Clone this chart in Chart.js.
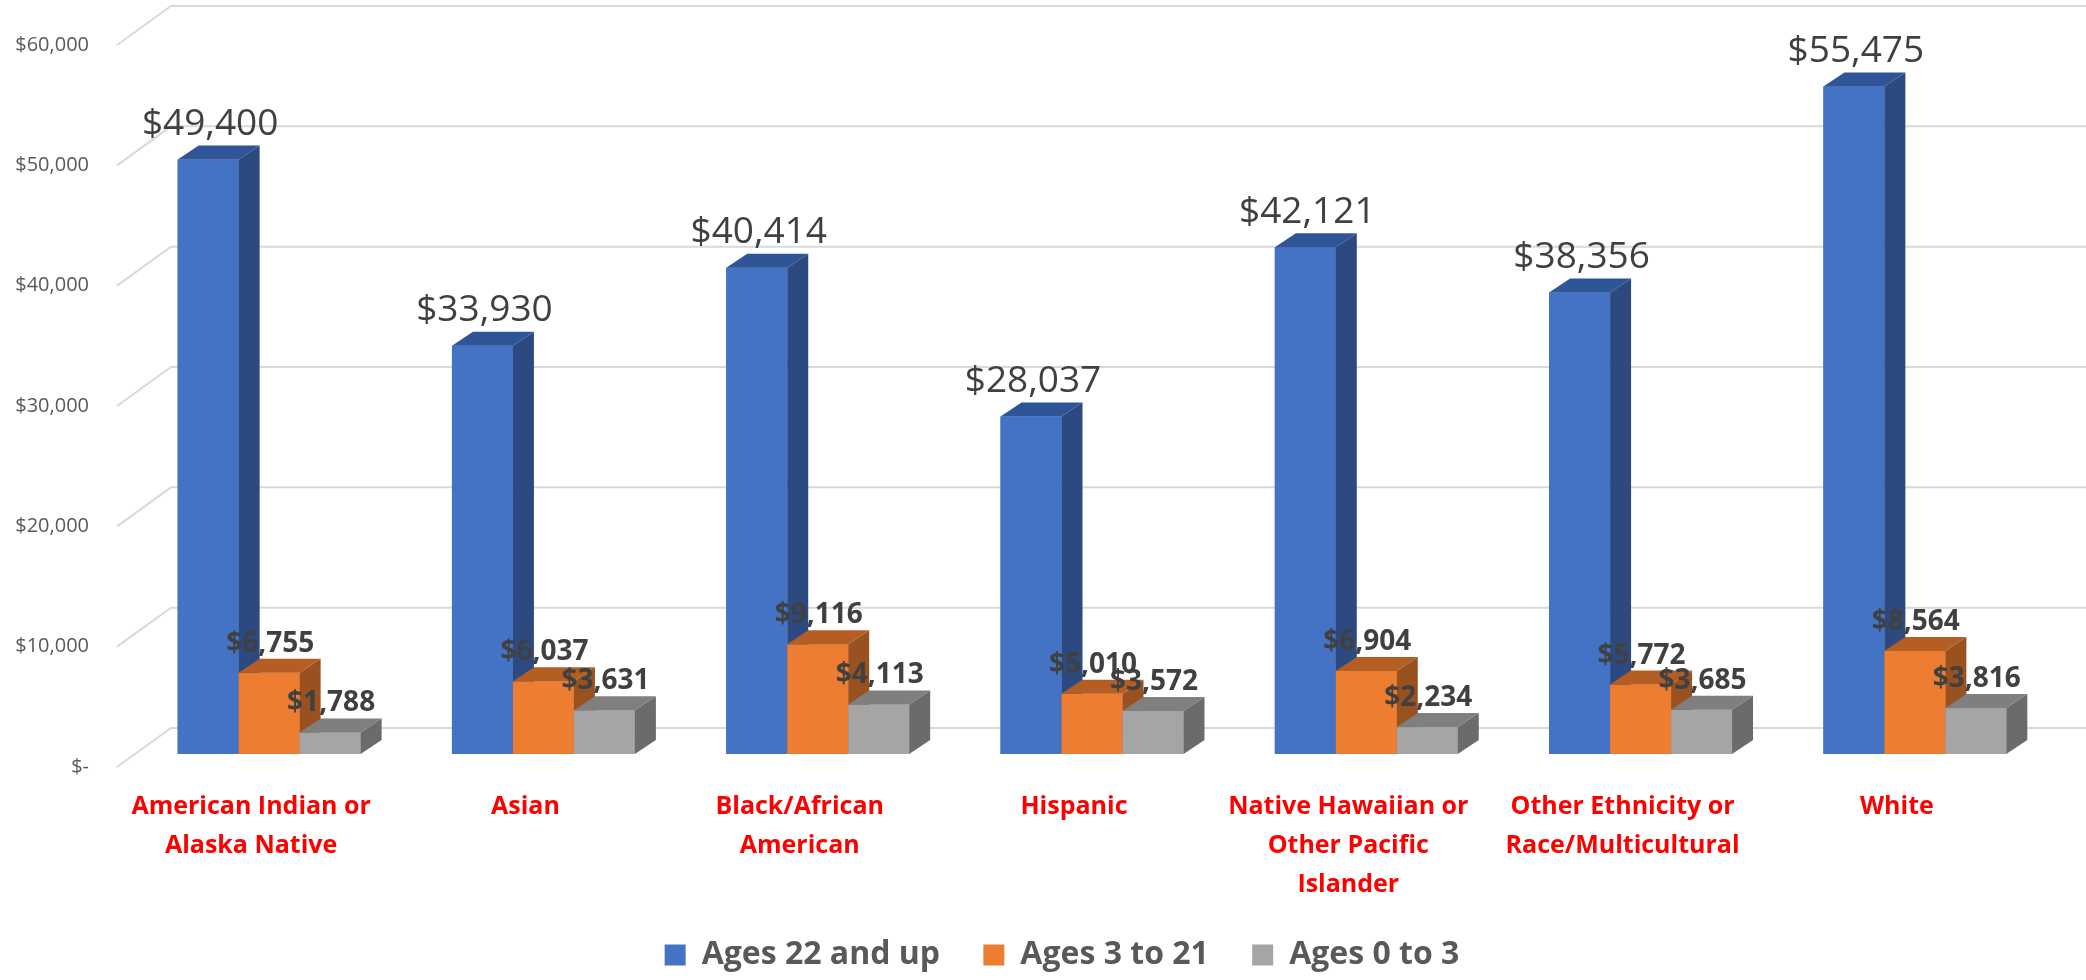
<!DOCTYPE html>
<html>
<head>
<meta charset="utf-8">
<script src="https://cdn.jsdelivr.net/npm/chart.js@4.4.0/dist/chart.umd.min.js"></script>
<style>
  html, body { margin: 0; padding: 0; background: #fff; }
  #wrap { width: 2086px; height: 980px; position: relative; }
</style>
</head>
<body>
<div id="wrap"><canvas id="chart"></canvas></div>
<script>
// ─── DATA ───
const categories = [
  ['American Indian or', 'Alaska Native'],
  'Asian',
  ['Black/African', 'American'],
  'Hispanic',
  ['Native Hawaiian or', 'Other Pacific', 'Islander'],
  ['Other Ethnicity or', 'Race/Multicultural'],
  'White',
];
const seriesNames = ['Ages 22 and up', 'Ages 3 to 21', 'Ages 0 to 3'];
const ages22Up  = [49400, 33930, 40414, 28037, 42121, 38356, 55475];
const ages3To21 = [6755, 6037, 9116, 5010, 6904, 5772, 8564];
const ages0To3  = [1788, 3631, 4113, 3572, 2234, 3685, 3816];
const yMax = 60000;
const yStep = 10000;

// ─── STYLE ───
Chart.defaults.font.family = "'Open Sans', sans-serif";
Chart.defaults.color = '#595959';

// front / side / top face colours per series
const FACES = [
  { front: '#4472C4', side: '#2C4A80', top: '#2F5597' },
  { front: '#ED7D31', side: '#9A5120', top: '#B45E24' },
  { front: '#A5A5A5', side: '#6B6B6B', top: '#7F7F7F' },
];
const BAR_DX = 21, BAR_DY = 14;     // depth of each bar
const WALL_DX = 54, WALL_DY = 39;   // depth of the floor / back wall
const FRONT_DY = 13;                // bars sit this far behind the front edge
const LEGEND_SHIFT = 30;
const LEGEND_GAP = ' ';

const fmt = v => v === 0 ? '$-' : '$' + v.toLocaleString('en-US');

// ─── 3D BAR PLUGIN ───
const bar3d = {
  id: 'bar3d',
  afterLayout(chart) {
    // legend sits a little right of centre in the original
    chart.legend.left += LEGEND_SHIFT;
    chart.legend.right += LEGEND_SHIFT;
  },
  beforeDatasetsDraw(chart) {
    const { ctx, chartArea, scales: { y } } = chart;
    const fx = chartArea.left - 15;
    ctx.save();
    ctx.strokeStyle = '#D9D9D9';
    ctx.lineWidth = 2;
    y.ticks.forEach(t => {
      const py = y.getPixelForValue(t.value) + FRONT_DY;
      ctx.beginPath();
      ctx.moveTo(fx, py);
      ctx.lineTo(fx + WALL_DX, py - WALL_DY);
      ctx.lineTo(chart.width, py - WALL_DY);
      ctx.stroke();
    });
    ctx.restore();
  },
  afterDatasetsDraw(chart) {
    const { ctx } = chart;
    ctx.save();
    // faces, drawn series by series so each bar covers its left neighbour's side
    chart.data.datasets.forEach((ds, di) => {
      const meta = chart.getDatasetMeta(di);
      const c = FACES[di];
      meta.data.forEach(bar => {
        const { x, y, base, width } = bar.getProps(['x', 'y', 'base', 'width'], true);
        const l = x - width / 2, r = x + width / 2;
        ctx.fillStyle = c.front;
        ctx.fillRect(l, y, width, base - y);
        ctx.fillStyle = c.side;
        ctx.beginPath();
        ctx.moveTo(r, y); ctx.lineTo(r + BAR_DX, y - BAR_DY);
        ctx.lineTo(r + BAR_DX, base - BAR_DY); ctx.lineTo(r, base);
        ctx.closePath(); ctx.fill();
        ctx.fillStyle = c.top;
        ctx.beginPath();
        ctx.moveTo(l, y); ctx.lineTo(l + BAR_DX, y - BAR_DY);
        ctx.lineTo(r + BAR_DX, y - BAR_DY); ctx.lineTo(r, y);
        ctx.closePath(); ctx.fill();
      });
    });
    // value labels
    ctx.fillStyle = '#404040';
    ctx.textAlign = 'center';
    ctx.textBaseline = 'middle';
    chart.data.datasets.forEach((ds, di) => {
      const meta = chart.getDatasetMeta(di);
      ctx.font = di === 0 ? "37px 'Open Sans'" : "bold 28px 'Open Sans'";
      meta.data.forEach((bar, i) => {
        const { x, y } = bar.getProps(['x', 'y'], true);
        if (di === 0) ctx.fillText(fmt(ds.data[i]), x + 2, y - 35);
        else ctx.fillText(fmt(ds.data[i]), x + 1, y - 29);
      });
    });
    ctx.restore();
  },
};

const seriesData = [ages22Up, ages3To21, ages0To3];

new Chart(document.getElementById('chart'), {
  type: 'bar',
  data: {
    labels: categories,
    datasets: seriesNames.map((name, i) => ({
      label: name,
      data: seriesData[i],
      backgroundColor: FACES[i].front,
      borderWidth: 0,
      categoryPercentage: 0.667,
      barPercentage: 1,
    })),
  },
  options: {
    responsive: true,
    maintainAspectRatio: false,
    animation: false,
    layout: { padding: { left: 12, right: 34, top: 32, bottom: 6 } },
    plugins: {
      tooltip: { enabled: false },
      legend: {
        position: 'bottom',
        maxHeight: 70,
        labels: {
          boxWidth: 21, boxHeight: 21, padding: 35,
          color: '#595959',
          font: { size: 32, weight: 'bold' },
          generateLabels: chart => Chart.defaults.plugins.legend.labels.generateLabels(chart)
            .map((item, i, all) => ({ ...item, text: i < all.length - 1 ? item.text + LEGEND_GAP : item.text })),
        },
      },
    },
    scales: {
      x: {
        grid: { display: false, drawTicks: false },
        border: { display: false },
        ticks: {
          color: '#FF0000',
          font: { size: 25, weight: 'bold', lineHeight: 1.56 },
          padding: 33,
          labelOffset: -18,
          maxRotation: 0,
          autoSkip: false,
        },
        afterFit: s => { s.height = 150; },
      },
      y: {
        min: 0, max: yMax,
        grid: { display: false, drawTicks: false },
        border: { display: false },
        ticks: {
          stepSize: yStep,
          color: '#595959',
          font: { size: 20 },
          padding: 43,
          labelOffset: FRONT_DY,
          callback: v => fmt(v),
        },
        afterFit: s => { s.width = 120; s.paddingTop = 12; s.paddingBottom = 12; },
      },
    },
  },
  plugins: [bar3d],
});
</script>
</body>
</html>
